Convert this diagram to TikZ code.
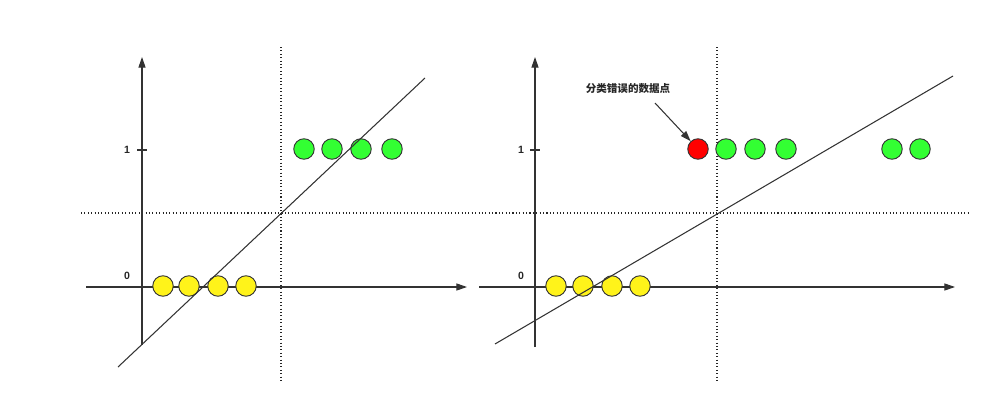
\documentclass[tikz,border=0pt]{standalone}
\usepackage{fontspec}
\setmainfont{Liberation Sans}
\newfontfamily\cjk{Noto Sans CJK SC}
\usetikzlibrary{arrows.meta}
\tikzset{
  axis/.style={draw=black!80, line width=0.9pt, -{Triangle[length=9pt,width=6pt]}},
  guide/.style={draw=black!85, line width=0.9pt, dotted},
  pt/.style={circle, draw=black!80, line width=0.8pt, minimum size=20.5*0.3mm, inner sep=0pt},
  yel/.style={pt, fill=yellow!90!white},
  grn/.style={pt, fill=green!80!white},
  rd/.style={pt, fill=red},
  lbl/.style={font=\bfseries\fontsize{9}{10}\selectfont, text=black!85}
}
\begin{document}
\begin{tikzpicture}[x=0.3mm, y=-0.3mm]
  \useasboundingbox (0,0) rectangle (1000,412);
  % left panel
  \draw[guide] (81,213) -- (968,213);
  \draw[guide] (281,47) -- (281,380);
  \draw[axis] (142,345) -- (142,57);
  \draw[axis] (86,287) -- (467,287);
  \draw[black!80, line width=0.9pt] (137,150) -- (147,150);
  \node[lbl] (oneL) at (127,150) {1};
  \node[lbl] (zeroL) at (127,276) {0};
  \foreach \x [count=\i] in {163,189,218,246} \node[yel] (yL\i) at (\x,286) {};
  \foreach \x [count=\i] in {304,332,361,392} \node[grn] (gL\i) at (\x,149) {};
  \draw[black!80, line width=0.9pt] (118,367) -- (425,78);
  % right panel
  \draw[guide] (717,47) -- (717,381);
  \draw[axis] (535,347) -- (535,57);
  \draw[axis] (479,287) -- (955,287);
  \draw[black!80, line width=0.9pt] (530,150) -- (540,150);
  \node[lbl] (oneR) at (521,150) {1};
  \node[lbl] (zeroR) at (521,276) {0};
  \foreach \x [count=\i] in {556,583,612,640} \node[yel] (yR\i) at (\x,286) {};
  \node[rd] (bad) at (698,149) {};
  \foreach \x [count=\i] in {726,755,786,892,920} \node[grn] (gR\i) at (\x,149) {};
  \draw[black!80, line width=0.9pt] (495,344) -- (953,76);
  \node[lbl, font=\cjk\bfseries\fontsize{9}{10}\selectfont] (note) at (628,89) {分类错误的数据点};
  \draw[black!80, line width=0.9pt, -{Triangle[length=9pt,width=6pt]}] (655,103) -- (bad);
\end{tikzpicture}
\end{document}
